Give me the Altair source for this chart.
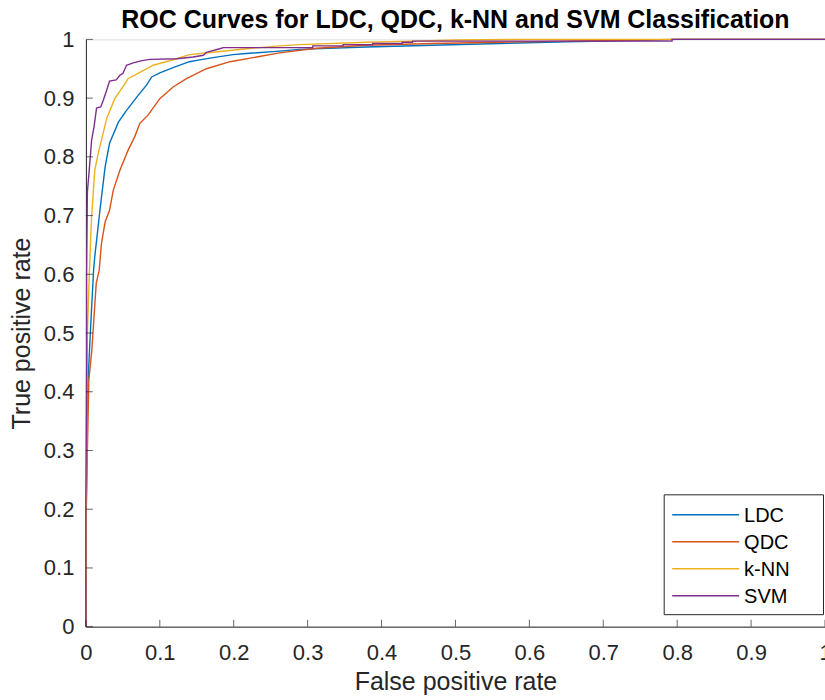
import altair as alt
import pandas as pd

# ---------------- data ----------------
series_names = ["LDC", "QDC", "k-NN", "SVM"]
series_colors = ["#0072BD", "#D95319", "#EDB120", "#7E2F8E"]

ldc_fpr = [0, 0.0005, 0.002, 0.003, 0.006, 0.0104, 0.012, 0.019, 0.026, 0.032, 0.044, 0.055, 0.071,
           0.082, 0.089, 0.1, 0.118, 0.14, 0.154, 0.172, 0.199, 0.217, 0.262, 0.289, 0.379, 0.469,
           0.56, 0.65, 0.74, 0.8, 1.0]
ldc_tpr = [0, 0.2, 0.38, 0.42, 0.5, 0.607, 0.63, 0.709, 0.783, 0.823, 0.859, 0.879, 0.905,
           0.922, 0.936, 0.943, 0.952, 0.962, 0.965, 0.969, 0.974, 0.976, 0.98, 0.983, 0.987, 0.99,
           0.993, 0.996, 0.998, 1.0, 1.0]

qdc_fpr = [0, 0.0005, 0.002, 0.004, 0.008, 0.014, 0.018, 0.021, 0.026, 0.032, 0.037, 0.046, 0.057,
           0.066, 0.073, 0.084, 0.1, 0.118, 0.136, 0.163, 0.195, 0.231, 0.262, 0.312, 0.379, 0.469,
           0.56, 0.65, 0.75, 0.8, 1.0]
qdc_tpr = [0, 0.2, 0.3, 0.42, 0.47, 0.585, 0.607, 0.652, 0.689, 0.709, 0.743, 0.777, 0.811,
           0.834, 0.857, 0.871, 0.899, 0.919, 0.933, 0.95, 0.962, 0.97, 0.977, 0.985, 0.99, 0.993,
           0.995, 0.997, 0.999, 1.0, 1.0]

knn_fpr = [0, 0.0005, 0.001, 0.002, 0.0045, 0.0077, 0.012, 0.0167, 0.021, 0.028, 0.039, 0.05,
           0.057, 0.073, 0.091, 0.123, 0.14, 0.172, 0.217, 0.262, 0.289, 0.379, 0.442, 0.5, 0.6, 1.0]
knn_tpr = [0, 0.2, 0.35, 0.5, 0.596, 0.698, 0.777, 0.806, 0.828, 0.865, 0.899, 0.919,
           0.933, 0.944, 0.956, 0.967, 0.974, 0.978, 0.984, 0.989, 0.991, 0.995, 0.997, 0.999, 1.0, 1.0]

svm_fpr = [0, 0, 0.001, 0.001, 0.002, 0.0045, 0.0077, 0.011, 0.0144, 0.02, 0.0234, 0.028, 0.032,
           0.041, 0.046, 0.05, 0.055, 0.064, 0.073, 0.086, 0.123, 0.145, 0.159, 0.163, 0.181, 0.186,
           0.307, 0.307, 0.348, 0.348, 0.388, 0.388, 0.428, 0.428, 0.442, 0.442, 0.793, 0.793, 1.0]
svm_tpr = [0, 0.2, 0.45, 0.6, 0.74, 0.777, 0.828, 0.851, 0.883, 0.885, 0.896, 0.913, 0.929,
           0.931, 0.939, 0.942, 0.956, 0.96, 0.963, 0.966, 0.967, 0.97, 0.973, 0.978, 0.984, 0.986,
           0.986, 0.989, 0.989, 0.991, 0.991, 0.993, 0.993, 0.995, 0.995, 0.997, 0.997, 1.0, 1.0]

tick_values = [0, 0.1, 0.2, 0.3, 0.4, 0.5, 0.6, 0.7, 0.8, 0.9, 1]

# ---------------- build tables ----------------
rows = []
for name, fx, ty in zip(series_names,
                        [ldc_fpr, qdc_fpr, knn_fpr, svm_fpr],
                        [ldc_tpr, qdc_tpr, knn_tpr, svm_tpr]):
    for i, (a, b) in enumerate(zip(fx, ty)):
        rows.append({"series": name, "fpr": a, "tpr": b, "idx": i})
df = pd.DataFrame(rows)
ticks_df = pd.DataFrame({"v": tick_values})

FONT = "Liberation Sans"
AX = "#262626"
W, H = 740, 588

xscale = alt.Scale(domain=[0, 1], nice=False, zero=False)
yscale = alt.Scale(domain=[0, 1], nice=False, zero=False)
cscale = alt.Scale(domain=series_names, range=series_colors)

xaxis = alt.Axis(values=tick_values, format="~g", grid=False, ticks=False, labelFlush=False,
                 labelOverlap=False, labelFontSize=22, labelColor=AX, labelFont=FONT,
                 labelPadding=16, domainColor=AX, domainWidth=1,
                 title="False positive rate", titleFontSize=25, titleFontWeight="normal",
                 titleColor=AX, titleFont=FONT, titlePadding=6)
yaxis = alt.Axis(values=tick_values, format="~g", grid=False, ticks=False, labelFlush=False,
                 labelOverlap=False, labelFontSize=22, labelColor=AX, labelFont=FONT,
                 labelPadding=12, domainColor=AX, domainWidth=1,
                 title="True positive rate", titleFontSize=25, titleFontWeight="normal",
                 titleColor=AX, titleFont=FONT, titlePadding=9)

base = alt.Chart(df)
layers = []
for name in series_names:
    layers.append(
        base.transform_filter(alt.datum.series == name)
        .mark_line(strokeWidth=1.4, clip=False)
        .encode(
            x=alt.X("fpr:Q", scale=xscale, axis=xaxis),
            y=alt.Y("tpr:Q", scale=yscale, axis=yaxis),
            color=alt.Color("series:N", scale=cscale, legend=None),
            order="idx:Q",
        )
    )

# inward tick marks (MATLAB style)
xticks = alt.Chart(ticks_df).mark_tick(orient="vertical", color=AX, size=7, thickness=1).encode(
    x=alt.X("v:Q", scale=xscale), y=alt.value(H - 3.5))
yticks = alt.Chart(ticks_df).mark_tick(orient="horizontal", color=AX, size=7, thickness=1).encode(
    y=alt.Y("v:Q", scale=yscale), x=alt.value(3.5))

# legend box (drawn manually, MATLAB style)
one = pd.DataFrame({"k": [0]})
leg_left, leg_right, leg_top, leg_bottom = 579, 738.5, 456, 576
row_y0, row_dy = 476, 27
legend_box = alt.Chart(one).mark_rect(fill="white", stroke=AX, strokeWidth=1).encode(
    x=alt.value(leg_left), x2=alt.value(leg_right), y=alt.value(leg_top), y2=alt.value(leg_bottom))
legend_layers = [legend_box]
for i, (name, col) in enumerate(zip(series_names, series_colors)):
    yy = row_y0 + i * row_dy
    legend_layers.append(
        alt.Chart(one).mark_rule(color=col, strokeWidth=1.4).encode(
            x=alt.value(587), x2=alt.value(654), y=alt.value(yy)))
    legend_layers.append(
        alt.Chart(one).mark_text(text=name, align="left", baseline="middle", fontSize=20,
                                 font=FONT, color="#000000").encode(
            x=alt.value(659), y=alt.value(yy + 1)))

chart = alt.layer(*layers, xticks, yticks, *legend_layers).properties(
    width=W, height=H,
    title=alt.TitleParams("ROC Curves for LDC, QDC, k-NN and SVM Classification",
                          fontSize=25, fontWeight="bold", font=FONT, color="#000000",
                          anchor="middle", frame="group", offset=8, dy=13),
    autosize=alt.AutoSizeParams(type="none"),
    padding={"left": 86, "top": 39, "right": 0, "bottom": 73},
).configure_view(stroke=None).configure(background="white")

chart.save("out.html", embed_options={"renderer": "svg", "actions": False})
